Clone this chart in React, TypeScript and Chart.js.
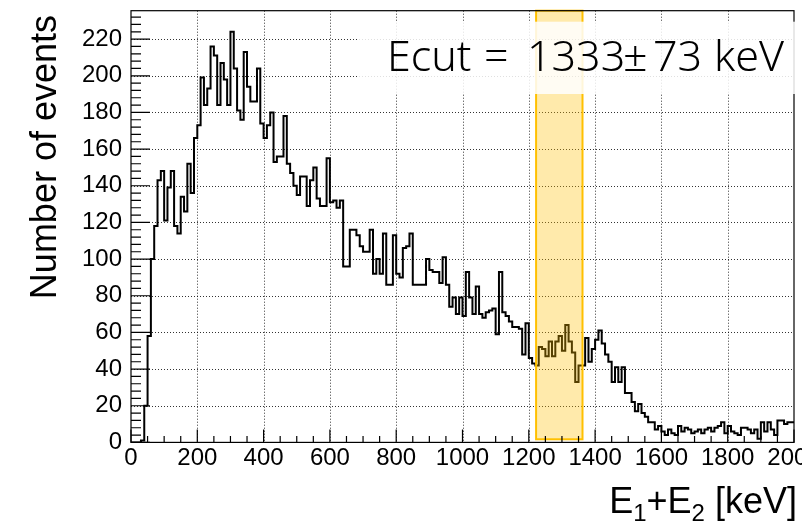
import React, { useEffect, useRef } from 'react';
import { Chart, registerables } from 'chart.js';

Chart.register(...registerables);

// ---- data ----
// counts per 10 keV bin, 0 .. 2000 keV
const counts: number[] = [
  0, 0, 0, 1, 20, 58, 100, 118, 143, 148,
  121, 139, 148, 118, 114, 134, 126, 152, 136, 166,
  173, 199, 184, 193, 216, 211, 184, 207, 198, 184,
  224, 204, 181, 176, 213, 194, 186, 186, 204, 174,
  166, 173, 180, 153, 156, 156, 178, 152, 147, 140,
  135, 145, 145, 129, 143, 150, 133, 129, 129, 155,
  131, 132, 128, 132, 96, 96, 116, 116, 113, 107,
  104, 104, 116, 92, 100, 92, 114, 86, 86, 113,
  92, 90, 106, 107, 114, 86, 86, 86, 86, 100,
  94, 93, 93, 87, 101, 86, 74, 79, 70, 79,
  69, 93, 79, 70, 85, 70, 68, 71, 72, 73,
  59, 93, 71, 69, 66, 63, 63, 62, 48, 65,
  46, 43, 42, 52, 51, 47, 55, 47, 55, 58,
  50, 64, 55, 49, 33, 42, 42, 57, 44, 51,
  56, 61, 54, 48, 44, 33, 41, 33, 41, 27,
  27, 22, 17, 21, 16, 14, 11, 11, 7, 9,
  6, 4, 7, 5, 4, 9, 6, 8, 7, 5,
  6, 7, 5, 7, 8, 6, 8, 9, 11, 5,
  9, 6, 5, 4, 8, 8, 7, 5, 7, 2,
  11, 6, 11, 7, 4, 12, 12, 10, 11, 11,
];
const BIN_WIDTH = 10; // keV
const X_MIN = 0;
const X_MAX = 2000;
const Y_MIN = 0;
const Y_MAX = 235.5;
const binLowEdges: number[] = counts.map((_, i) => X_MIN + i * BIN_WIDTH);

const xTickValues: number[] = [0, 200, 400, 600, 800, 1000, 1200, 1400, 1600, 1800, 2000];
const yTickValues: number[] = [0, 20, 40, 60, 80, 100, 120, 140, 160, 180, 200, 220];
const X_MINOR_STEP = 50;
const Y_MINOR_STEP = 4;

const cutWindow: number[] = [1222, 1362]; // keV, shaded band
const cutBandBottom = 1.7;
const cutLabelParts: string[] = ['Ecut', '=', '1333', '±', '73', 'keV'];
const yTitle = 'Number of events';
const xTitleParts: { text: string; sub: boolean }[] = [
  { text: 'E', sub: false },
  { text: '1', sub: true },
  { text: '+E', sub: false },
  { text: '2', sub: true },
  { text: ' [keV]', sub: false },
];

const W = 802;
const H = 526;
const AREA_LEFT = 131;
const AREA_RIGHT = 794;
const AREA_TOP = 10.7;
const AREA_BOTTOM = 442.4;
const SANS = '"Liberation Sans", Arial, Helvetica, sans-serif';
const LABEL_FONT = '"Noto Sans", "Open Sans", sans-serif';

// left x of each label word, measured on the reference picture
const cutLabelX: number[] = [387, 484, 527, 623, 653, 714];

const decor = {
  id: 'rootDecor',
  beforeDatasetsDraw(chart: any) {
    const { ctx, chartArea: a, scales } = chart;
    const x = scales.x;
    const y = scales.y;
    ctx.save();
    ctx.strokeStyle = 'rgba(0,0,0,0.8)';
    ctx.lineWidth = 1;
    ctx.setLineDash([1, 2]);
    for (const v of xTickValues) {
      if (v <= X_MIN || v >= X_MAX) continue;
      const px = Math.round(x.getPixelForValue(v)) + 0.5;
      ctx.beginPath();
      ctx.moveTo(px, a.top);
      ctx.lineTo(px, a.bottom);
      ctx.stroke();
    }
    for (const v of yTickValues) {
      if (v <= Y_MIN) continue;
      const py = Math.round(y.getPixelForValue(v)) + 0.5;
      ctx.beginPath();
      ctx.moveTo(a.left, py);
      ctx.lineTo(a.right, py);
      ctx.stroke();
    }
    ctx.restore();
  },
  afterDatasetsDraw(chart: any) {
    const { ctx, chartArea: a, scales } = chart;
    const x = scales.x;
    const y = scales.y;
    ctx.save();

    // cut band
    const bx1 = x.getPixelForValue(cutWindow[0]);
    const bx2 = x.getPixelForValue(cutWindow[1]);
    const by1 = a.top;
    const by2 = y.getPixelForValue(cutBandBottom);
    ctx.fillStyle = 'rgba(255, 192, 0, 0.33)';
    ctx.fillRect(bx1, by1, bx2 - bx1, by2 - by1);
    ctx.strokeStyle = '#FFC000';
    ctx.lineWidth = 2;
    ctx.strokeRect(bx1, by1, bx2 - bx1, by2 - by1);

    // frame
    ctx.strokeStyle = '#000';
    ctx.lineWidth = 1.2;
    ctx.strokeRect(a.left, a.top, a.right - a.left, a.bottom - a.top);

    // ticks (inside)
    ctx.lineWidth = 1.2;
    ctx.beginPath();
    for (let v = X_MIN; v <= X_MAX; v += X_MINOR_STEP) {
      const major = xTickValues.includes(v);
      const px = x.getPixelForValue(v);
      const len = major ? 13 : 6.5;
      ctx.moveTo(px, a.bottom);
      ctx.lineTo(px, a.bottom - len);
    }
    for (let v = Y_MIN; v <= Y_MAX; v += Y_MINOR_STEP) {
      const major = yTickValues.includes(v);
      const py = y.getPixelForValue(v);
      const len = major ? 19 : 10;
      ctx.moveTo(a.left, py);
      ctx.lineTo(a.left + len, py);
    }
    ctx.stroke();

    // translucent label box
    ctx.fillStyle = 'rgba(255,255,255,0.85)';
    ctx.fillRect(357, 21.7, W - 357, 94 - 21.7);

    // label text
    ctx.fillStyle = '#000';
    ctx.textAlign = 'left';
    ctx.textBaseline = 'alphabetic';
    ctx.font = `300 43px ${LABEL_FONT}`;
    cutLabelParts.forEach((t, i) => ctx.fillText(t, cutLabelX[i], 71));

    // y title
    ctx.save();
    ctx.translate(56, 15);
    ctx.rotate(-Math.PI / 2);
    ctx.font = `36px ${SANS}`;
    ctx.textAlign = 'right';
    ctx.textBaseline = 'alphabetic';
    ctx.fillText(yTitle, 0, 0);
    ctx.restore();

    // x title with subscripts
    const mainFont = `36px ${SANS}`;
    const subFont = `24px ${SANS}`;
    let total = 0;
    for (const p of xTitleParts) {
      ctx.font = p.sub ? subFont : mainFont;
      total += ctx.measureText(p.text).width;
    }
    let cx = 797 - total;
    const base = 513;
    for (const p of xTitleParts) {
      ctx.font = p.sub ? subFont : mainFont;
      ctx.fillText(p.text, cx, p.sub ? base + 8 : base);
      cx += ctx.measureText(p.text).width;
    }

    ctx.restore();
  },
};

export default function App() {
  const ref = useRef<HTMLCanvasElement | null>(null);

  useEffect(() => {
    document.body.style.margin = '0';
    const points = binLowEdges.map((e, i) => ({ x: e, y: counts[i] }));
    points.push({ x: X_MAX, y: counts[counts.length - 1] });

    const tickFont = { family: SANS, size: 24 };
    const chart = new Chart(ref.current as HTMLCanvasElement, {
      type: 'line',
      data: {
        datasets: [
          {
            data: points,
            stepped: true,
            borderColor: '#000',
            borderWidth: 2,
            pointRadius: 0,
            fill: false,
            tension: 0,
          },
        ],
      },
      options: {
        animation: false,
        responsive: false,
        devicePixelRatio: 1,
        layout: { padding: { top: AREA_TOP, right: W - AREA_RIGHT, left: 0, bottom: 0 } },
        plugins: { legend: { display: false }, tooltip: { enabled: false } },
        scales: {
          x: {
            type: 'linear',
            min: X_MIN,
            max: X_MAX,
            grid: { display: false, drawTicks: false },
            border: { display: false },
            ticks: {
              color: '#000',
              font: tickFont,
              padding: 2,
              maxRotation: 0,
              autoSkip: false,
              callback: (v: any) => String(v),
            },
            afterBuildTicks: (s: any) => {
              s.ticks = xTickValues.map((v) => ({ value: v }));
            },
            afterFit: (s: any) => {
              s.height = H - AREA_BOTTOM;
              s.paddingLeft = 0;
              s.paddingRight = 0;
            },
          },
          y: {
            type: 'linear',
            min: Y_MIN,
            max: Y_MAX,
            grid: { display: false, drawTicks: false },
            border: { display: false },
            ticks: {
              color: '#000',
              font: tickFont,
              padding: 9,
              autoSkip: false,
              callback: (v: any) => String(v),
            },
            afterBuildTicks: (s: any) => {
              s.ticks = yTickValues.map((v) => ({ value: v }));
            },
            afterFit: (s: any) => {
              s.width = AREA_LEFT;
              s.paddingTop = 0;
              s.paddingBottom = 0;
            },
          },
        },
      } as any,
      plugins: [decor],
    });
    return () => chart.destroy();
  }, []);

  return (
    <div style={{ position: 'fixed', left: 0, top: 0, width: W, height: H, background: '#fff' }}>
      <canvas ref={ref} width={W} height={H} style={{ width: W, height: H, display: 'block' }} />
    </div>
  );
}
